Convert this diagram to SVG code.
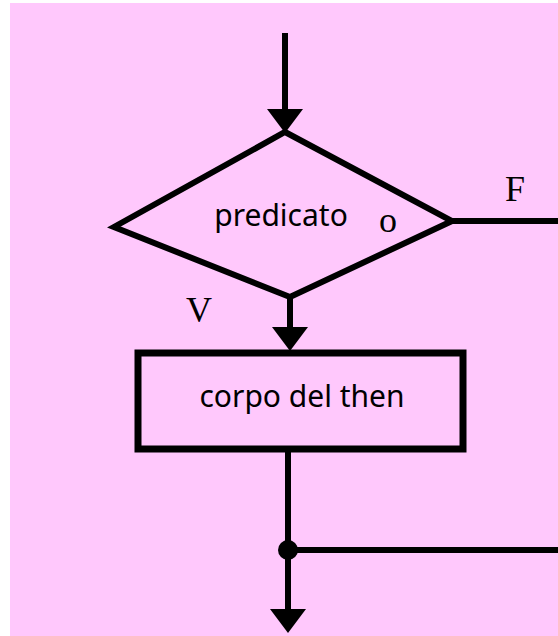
<svg xmlns="http://www.w3.org/2000/svg" width="558" height="636" viewBox="0 0 558 636">
  <style>
    .ln { stroke: #000; stroke-width: 6; fill: none; }
    .shape { stroke: #000; stroke-width: 6; fill: none; stroke-linejoin: miter; }
    .lbl { font-family: "Comic Sans MS", "Noto Sans", sans-serif; font-size: 30px; fill: #000; text-anchor: middle; }
    .ser { font-family: "Liberation Serif", serif; font-size: 36px; fill: #000; text-anchor: middle; }
  </style>
  <defs>
    <marker id="arr" markerUnits="userSpaceOnUse" markerWidth="24" markerHeight="36" refX="2" refY="18" orient="auto">
      <path d="M0,0 L24,18 L0,36 z" fill="#000"/>
    </marker>
  </defs>
  <rect x="10" y="3" width="548" height="633" fill="#FFC8FC"/>
  <g id="connectors">
    <line class="ln" x1="285" y1="33" x2="285" y2="111" marker-end="url(#arr)"/>
    <line class="ln" x1="452" y1="221" x2="558" y2="221"/>
    <line class="ln" x1="290" y1="297" x2="290" y2="329" marker-end="url(#arr)"/>
    <line class="ln" x1="288" y1="452" x2="288" y2="611" marker-end="url(#arr)"/>
    <circle cx="288" cy="550" r="10" fill="#000"/>
    <line class="ln" x1="288" y1="550" x2="558" y2="550"/>
  </g>
  <g id="decision">
    <polygon class="shape" points="285,132 452,221 290,297 114,227"/>
    <text class="lbl" x="281" y="226">predicato</text>
    <text class="ser" x="388" y="232">o</text>
  </g>
  <g id="body">
    <rect class="shape" x="138" y="353" width="325" height="96" style="stroke-width:7"/>
    <text class="lbl" x="302" y="407">corpo del then</text>
  </g>
  <g id="labels">
    <text class="ser" x="515" y="201">F</text>
    <text class="ser" x="199" y="322">V</text>
  </g>
</svg>
